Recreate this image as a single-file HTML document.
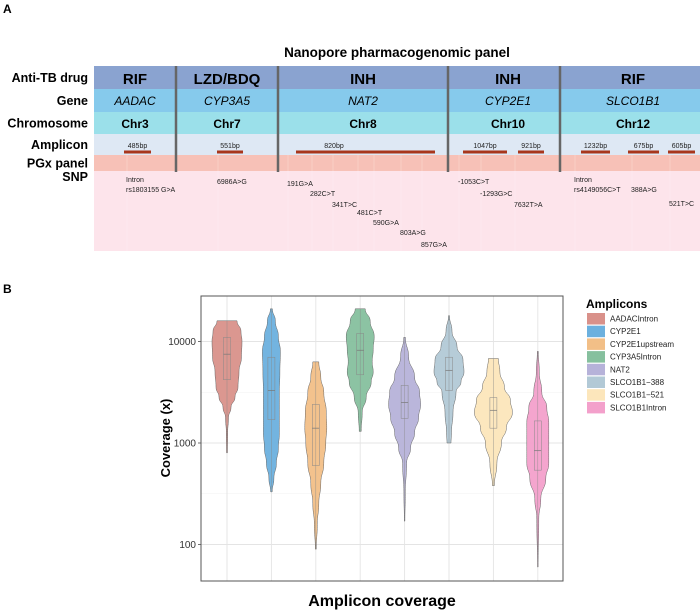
<!DOCTYPE html>
<html><head><meta charset="utf-8"><style>
html,body{margin:0;padding:0;background:#fff;}
svg{display:block;font-family:"Liberation Sans",Arial,sans-serif;}
</style></head><body>
<svg id="fig" width="700" height="610" viewBox="0 0 700 610">
<text x="3" y="13" font-size="12" font-weight="bold">A</text>
<text x="3" y="293" font-size="12" font-weight="bold">B</text>
<text x="397" y="57" font-size="13.5" font-weight="bold" text-anchor="middle">Nanopore pharmacogenomic panel</text>
<g id="table"></g>
<g id="chart"></g>
</svg>
<script>
// ---------- Panel A data ----------
const drugs = ["RIF","LZD/BDQ","INH","INH","RIF"];
const genes = ["AADAC","CYP3A5","NAT2","CYP2E1","SLCO1B1"];
const chroms = ["Chr3","Chr7","Chr8","Chr10","Chr12"];
const ampLabels = ["485bp","551bp","820bp","1047bp","921bp","1232bp","675bp","605bp"];
const snps = ["Intron","rs1803155 G>A","6986A>G","191G>A","282C>T","341T>C","481C>T","590G>A","803A>G","857G>A","-1053C>T","-1293G>C","7632T>A","Intron","rs4149056C>T","388A>G","521T>C"];

// ---------- Panel B data ----------
const categories = ["AADACIntron","CYP2E1","CYP2E1upstream","CYP3A5Intron","NAT2","SLCO1B1\u2212388","SLCO1B1\u2212521","SLCO1B1Intron"];
const colors = ["#d9918a","#6cb0de","#f2bf87","#86c09e","#b6b2d9","#b2c9d6","#fce6bb","#f3a0cb"];
const mins = [800,330,90,1300,170,1000,380,60];
const maxs = [16000,21000,6300,21000,11000,18000,6800,8000];
const q1s = [4200,1700,600,4700,1750,3300,1400,540];
const medians = [7500,3300,1400,8200,2500,5200,2100,840];
const q3s = [11000,7000,2400,12000,3700,7000,2800,1650];
// density profiles: [log10 value, half-width px]
const dens = [
 [[4.2,10],[4.1,14],[4.0,15],[3.85,14.5],[3.7,12],[3.55,11],[3.45,8],[3.35,4],[3.25,1.5],[3.1,0.7],[2.9,0.5]],
 [[4.32,1],[4.2,4],[4.05,7],[3.9,9],[3.7,8.5],[3.5,8],[3.3,8],[3.1,8],[2.95,7],[2.8,5],[2.65,2.5],[2.52,0.8]],
 [[3.8,3],[3.65,5],[3.5,8],[3.3,10.5],[3.15,11],[3.0,10],[2.8,8],[2.6,5],[2.4,3],[2.2,1.5],[1.95,0.5]],
 [[4.32,5],[4.2,10],[4.05,14],[3.92,13],[3.8,12],[3.7,13],[3.6,11],[3.45,6],[3.3,2],[3.11,1]],
 [[4.04,0.8],[3.85,4],[3.65,10],[3.5,15],[3.38,16],[3.25,14],[3.1,10],[2.95,6],[2.8,2],[2.5,0.7],[2.23,0.3]],
 [[4.25,0.5],[4.1,3],[3.95,8],[3.82,14],[3.7,15],[3.6,12],[3.5,7],[3.3,4],[3.1,2.5],[3.0,2]],
 [[3.83,5],[3.7,6.5],[3.55,11],[3.42,17],[3.3,19],[3.15,13],[3.0,8],[2.8,3.5],[2.58,1]],
 [[3.9,0.5],[3.7,1.5],[3.5,4],[3.35,9],[3.2,11],[3.0,11],[2.8,11],[2.65,8],[2.45,3],[2.25,1],[1.78,0.3]]
];
const yTicks = [100,1000,10000];
const yTickLabels = ["100","1000","10000"];

const NS="http://www.w3.org/2000/svg";
function mk(tag,attrs,parent,txt){const e=document.createElementNS(NS,tag);for(const k in attrs)e.setAttribute(k,attrs[k]);if(txt!==undefined)e.textContent=txt;parent.appendChild(e);return e;}

// ---------- Panel A ----------
const T=document.getElementById('table');
const X0=94,X1=700;
const rows=[["Anti-TB drug",66,89,"#8aa3d0"],["Gene",89,112,"#86caec"],["Chromosome",112,134,"#9be0ea"],["Amplicon",134,155,"#dee8f4"],["PGx panel",155,171,"#f7c1b7"],["SNP",171,251,"#fde4eb"]];
rows.forEach(r=>{
 const rr=mk('rect',{x:X0,y:r[1],width:X1-X0,height:r[2]-r[1],fill:r[3]},T);
 
 
 const ly = r[0]==="SNP"?181:(r[1]+r[2])/2+4.5;
 const t=mk('text',{x:88,y:ly,'font-size':12.5,'font-weight':'bold','text-anchor':'end'},T,r[0]);
 
 
});
// faint vertical lines in SNP area
[127,218,288,312,333,358,374,401,422,459,481,515,575,632,670].forEach(x=>{
 const l=mk('line',{x1:x,x2:x,y1:155,y2:251,stroke:'#ffffff','stroke-opacity':0.35,'stroke-width':0.6},T);
 
 
});
const colCenters=[135,227,363,508,633];
drugs.forEach((d,i)=>{
 const a=mk('text',{x:colCenters[i],y:84,'font-size':15,'font-weight':'bold','text-anchor':'middle'},T,d);
  
 const g=mk('text',{x:colCenters[i],y:105,'font-size':12,'font-style':'italic','text-anchor':'middle'},T,genes[i]);
  
 const c=mk('text',{x:colCenters[i],y:128,'font-size':12,'font-weight':'bold','text-anchor':'middle'},T,chroms[i]);
  
});
[176,278,448,560].forEach(x=>{
 const l=mk('line',{x1:x,x2:x,y1:66,y2:172,stroke:'#666',"stroke-width":2.5},T);
  
});
const bars=[[124,151],[217,243],[296,435],[463,507],[518,544],[581,610],[628,659],[668,695]];
bars.forEach((b,i)=>{
 const r=mk('rect',{x:b[0],y:150.5,width:b[1]-b[0],height:3,fill:'#a8361c'},T);
  
 const lx = i===2? b[0]+38 : (b[0]+b[1])/2;
 const t=mk('text',{x:lx,y:148,'font-size':7,'text-anchor':'middle',fill:'#222'},T,ampLabels[i]);
  
});
const snpPos=[[126,180],[126,190],[217,182],[287,184],[310,194],[332,205],[357,213],[373,223],[400,233],[421,245],[458,182],[480,194],[514,205],[574,180],[574,190],[631,190],[669,204]];
snps.forEach((s,i)=>{
 const t=mk('text',{x:snpPos[i][0],y:snpPos[i][1]+2,'font-size':7,fill:'#222'},T,s);
  
});

// ---------- Panel B ----------
const C=document.getElementById('chart');
const PL=201,PR=563,PT=296,PB=581;
const yScale=v=>443-(Math.log10(v)-3)*101.5;
const yLog=l=>443-(l-3)*101.5;
const xStep=(PR-PL)/8.15;
const xScale=i=>227+i*44.4;
mk('rect',{x:PL,y:PT,width:PR-PL,height:PB-PT,fill:'#fff'},C);
// minor grid
[31.62,316.2,3162,31623].forEach(v=>{const y=yScale(v);if(y>PT&&y<PB){const l=mk('line',{x1:PL,x2:PR,y1:y,y2:y,stroke:'#f0f0f0','stroke-width':0.6},C);}});
yTicks.forEach((v,i)=>{
 const y=yScale(v);
 const l=mk('line',{x1:PL,x2:PR,y1:y,y2:y,stroke:'#e4e4e4','stroke-width':0.9},C);
  
 const tk=mk('line',{x1:PL-3,x2:PL,y1:y,y2:y,stroke:'#333','stroke-width':0.7},C);
  
 const t=mk('text',{x:PL-5,y:y+3.5,'font-size':10,'text-anchor':'end',fill:'#333'},C,yTickLabels[i]);
  
});
categories.forEach((c,i)=>{
 const x=xScale(i);
 const l=mk('line',{x1:x,x2:x,y1:PT,y2:PB,stroke:'#e4e4e4','stroke-width':0.9},C);
  
});
categories.forEach((c,i)=>{
 const x=xScale(i), d=dens[i];
 const top=Math.log10(maxs[i]), bot=Math.log10(mins[i]);
 let pts=[];
 const right=d.map(p=>[x+p[1],yLog(Math.min(top,Math.max(bot,p[0])))]);
 right[0][1]=yScale(maxs[i]); right[right.length-1][1]=yScale(mins[i]);
 // smooth path
 function side(arr){let s='';for(let k=1;k<arr.length;k++){const p0=arr[k-1],p1=arr[k];const my=(p0[1]+p1[1])/2;s+=` C${p0[0]},${my} ${p1[0]},${my} ${p1[0]},${p1[1]}`;}return s;}
 const left=right.map(p=>[2*x-p[0],p[1]]).reverse();
 let dstr=`M${x},${right[0][1]} L${right[0][0]},${right[0][1]}`+side(right)+` L${x},${right[right.length-1][1]} L${left[0][0]},${left[0][1]}`+side(left)+' Z';
 const v=mk('path',{d:dstr,fill:colors[i],stroke:'#666','stroke-width':0.5,'fill-opacity':0.95},C);
 
 
 const w=mk('line',{x1:x,x2:x,y1:yScale(maxs[i]),y2:yScale(mins[i]),stroke:'#888','stroke-width':0.5,'stroke-opacity':0.8},C);
  
 const b=mk('rect',{x:x-3.5,y:yScale(q3s[i]),width:7,height:yScale(q1s[i])-yScale(q3s[i]),fill:'none',stroke:'#888','stroke-width':0.5},C);
  
 const m=mk('line',{x1:x-3.5,x2:x+3.5,y1:yScale(medians[i]),y2:yScale(medians[i]),stroke:'#777','stroke-width':0.7},C);
  
});
const fr=mk('rect',{x:PL,y:PT,width:PR-PL,height:PB-PT,fill:'none',stroke:'#555','stroke-width':1},C);
 
const yt=mk('text',{x:0,y:0,'font-size':13,'font-weight':'bold','text-anchor':'middle',transform:`translate(170,438) rotate(-90)`},C,'Coverage (x)');
 
const xt=mk('text',{x:382,y:606,'font-size':16,'font-weight':'bold','text-anchor':'middle'},C,'Amplicon coverage');
 
const lt=mk('text',{x:586,y:308,'font-size':12,'font-weight':'bold'},C,'Amplicons');
 
categories.forEach((c,i)=>{
 const y=313+i*12.7;
 const s=mk('rect',{x:587,y:y,width:18,height:11.5,fill:colors[i]},C);
  
 const t=mk('text',{x:610,y:y+8.5,'font-size':8,fill:'#222'},C,c);
  
});
</script>
</body></html>
